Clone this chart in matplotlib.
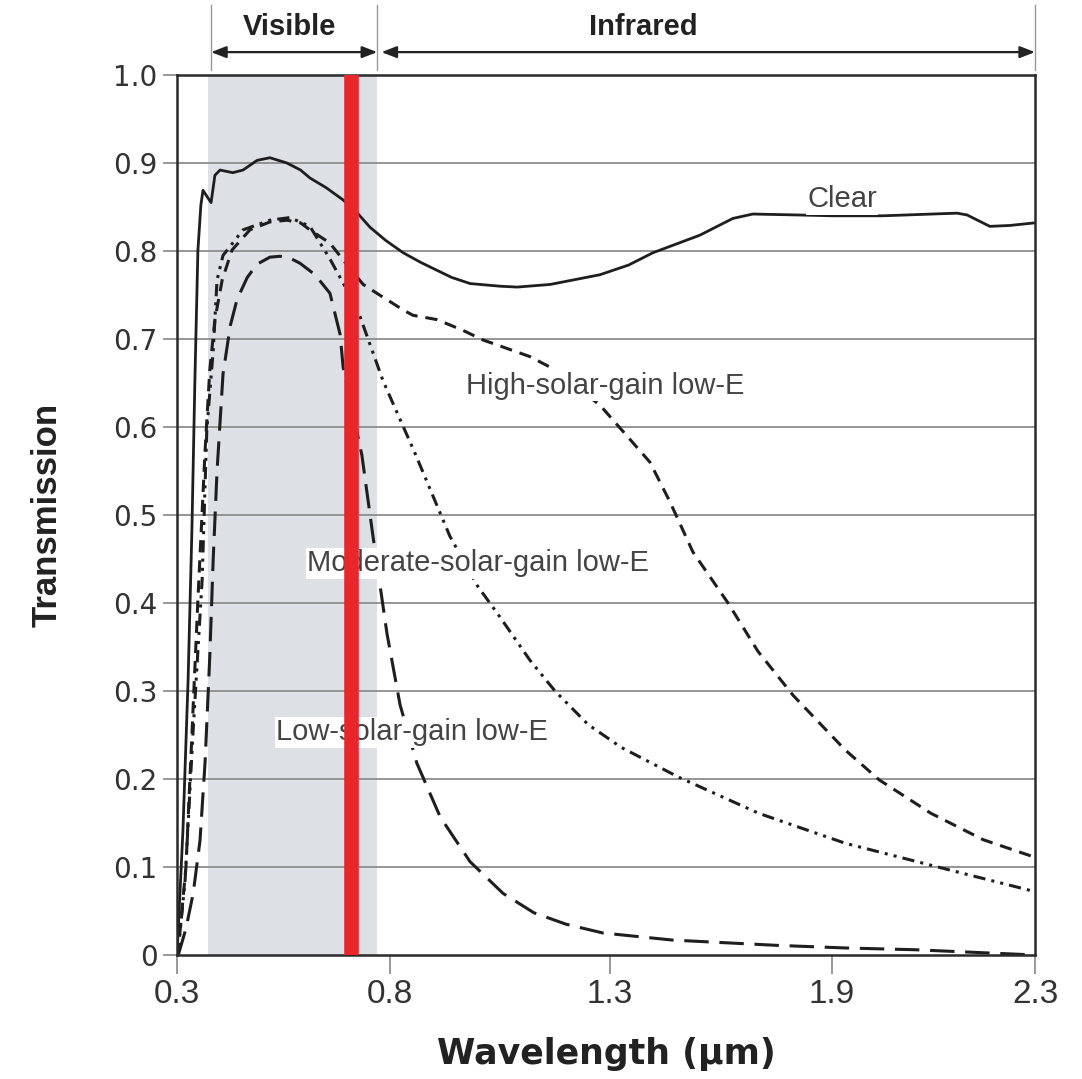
import numpy as np
import matplotlib
matplotlib.use("Agg")
import matplotlib.pyplot as plt
from matplotlib.scale import FuncScale

# wavelength tick labels (the axis is not linear between them)
wl_ticks = [0.3, 0.8, 1.3, 1.9, 2.3]
tick_labels = ["0.3", "0.8", "1.3", "1.9", "2.3"]
y_ticks = [0, 0.1, 0.2, 0.3, 0.4, 0.5, 0.6, 0.7, 0.8, 0.9, 1.0]
y_labels = ["0", "0.1", "0.2", "0.3", "0.4", "0.5", "0.6", "0.7", "0.8", "0.9", "1.0"]

# curves
clear_wl = [0.300, 0.314, 0.326, 0.335, 0.342, 0.349, 0.356, 0.361, 0.373, 0.380, 0.389,
            0.401, 0.431, 0.455, 0.488, 0.518, 0.558, 0.590, 0.612, 0.650, 0.690, 0.720,
            0.753, 0.790, 0.830, 0.870, 0.907, 0.940, 0.982, 1.050, 1.089, 1.164, 1.277,
            1.350, 1.416, 1.543, 1.632, 1.686, 1.800, 1.902, 2.000, 2.146, 2.166, 2.211,
            2.250, 2.300]
clear_t = [0.0, 0.142, 0.312, 0.483, 0.653, 0.800, 0.852, 0.869, 0.860, 0.855, 0.886,
           0.892, 0.889, 0.892, 0.903, 0.906, 0.900, 0.892, 0.883, 0.872, 0.858, 0.845,
           0.827, 0.812, 0.798, 0.787, 0.778, 0.770, 0.763, 0.760, 0.759, 0.762, 0.773,
           0.784, 0.798, 0.818, 0.837, 0.842, 0.841, 0.840, 0.840, 0.843, 0.841, 0.828,
           0.829, 0.832]

high_wl = [0.302, 0.321, 0.335, 0.349, 0.366, 0.377, 0.389, 0.406, 0.429, 0.471, 0.518,
           0.558, 0.590, 0.612, 0.659, 0.706, 0.737, 0.769, 0.830, 0.852, 0.907, 0.965,
           1.011, 1.118, 1.164, 1.277, 1.408, 1.462, 1.524, 1.619, 1.700, 1.795, 1.926,
           1.993, 2.095, 2.198, 2.300]
high_t = [0.0, 0.10, 0.25, 0.403, 0.574, 0.665, 0.722, 0.767, 0.801, 0.824, 0.833,
          0.835, 0.832, 0.824, 0.809, 0.780, 0.762, 0.752, 0.733, 0.727, 0.722, 0.710,
          0.699, 0.680, 0.668, 0.625, 0.560, 0.515, 0.458, 0.400, 0.345, 0.295, 0.233,
          0.199, 0.161, 0.131, 0.111]

mod_wl = [0.302, 0.319, 0.338, 0.359, 0.370, 0.385, 0.394, 0.408, 0.455, 0.518, 0.565,
          0.612, 0.659, 0.694, 0.730, 0.784, 0.857, 0.936, 0.998, 1.050, 1.118, 1.175,
          1.250, 1.330, 1.486, 1.702, 1.926, 2.095, 2.300]
mod_t = [0.0, 0.085, 0.256, 0.426, 0.597, 0.687, 0.767, 0.795, 0.824, 0.835, 0.838,
         0.828, 0.791, 0.760, 0.725, 0.652, 0.570, 0.476, 0.420, 0.384, 0.335, 0.300,
         0.262, 0.236, 0.202, 0.161, 0.127, 0.102, 0.072]

low_wl = [0.303, 0.321, 0.338, 0.354, 0.366, 0.377, 0.385, 0.394, 0.408, 0.425, 0.441,
          0.465, 0.488, 0.518, 0.542, 0.565, 0.589, 0.624, 0.659, 0.683, 0.690, 0.734,
          0.760, 0.793, 0.823, 0.861, 0.914, 0.982, 1.057, 1.127, 1.200, 1.284, 1.468,
          1.749, 1.926, 2.062, 2.300]
low_t = [0.0, 0.03, 0.07, 0.13, 0.22, 0.34, 0.45, 0.55, 0.66, 0.715, 0.745,
         0.770, 0.785, 0.793, 0.794, 0.792, 0.786, 0.773, 0.752, 0.705, 0.668, 0.568,
         0.476, 0.365, 0.284, 0.218, 0.157, 0.106, 0.070, 0.048, 0.035, 0.025, 0.017,
         0.011, 0.008, 0.006, 0.0]

visible_band = (0.373, 0.770)
red_marker = 0.708

# screen position of each wavelength tick (pixels from the left axis edge)
tick_pos = np.array([0, 213, 433, 655, 858], dtype=float)


def fwd(x):
    x = np.asarray(x, dtype=float)
    return np.where(x < wl_ticks[0], (x - wl_ticks[0]) * 426,
                    np.where(x > wl_ticks[-1], tick_pos[-1] + (x - wl_ticks[-1]) * 507,
                             np.interp(x, wl_ticks, tick_pos)))


def inv(p):
    p = np.asarray(p, dtype=float)
    return np.where(p < 0, wl_ticks[0] + p / 426,
                    np.where(p > tick_pos[-1], wl_ticks[-1] + (p - tick_pos[-1]) / 507,
                             np.interp(p, tick_pos, wl_ticks)))


fig = plt.figure(figsize=(10.82, 10.79), dpi=100)
ax = fig.add_axes([177 / 1082, 124 / 1079, 858 / 1082, 880 / 1079])
ax.set_xscale(FuncScale(ax, (fwd, inv)))
ax.set_xlim(0.3, 2.3)
ax.set_ylim(0, 1.0)

ax.axvspan(*visible_band, color="#dde0e4", lw=0, zorder=0.2)
for yv in y_ticks[1:-1]:
    ax.axhline(yv, color="#8c8c8c", lw=1.3, zorder=0.6)

lc = "#1e1e1e"
ax.plot(clear_wl, clear_t, color=lc, lw=2.0, zorder=2)
ax.plot(high_wl, high_t, color=lc, lw=2.2, ls=(0, (4, 2.6)), zorder=2)
ax.plot(mod_wl, mod_t, color=lc, lw=2.2, ls=(0, (4, 2, 1, 2, 1, 2)), zorder=2)
ax.plot(low_wl, low_t, color=lc, lw=2.2, ls=(0, (8, 3.5)), zorder=2)

ax.axvline(red_marker, color="#e8262b", lw=10.5, zorder=5)

lab = dict(fontsize=21, color="#444444", family="Liberation Sans", zorder=3, ha="center",
           va="center", bbox=dict(facecolor="white", edgecolor="none", pad=1))
ax.text(1.92, 0.859, "Clear", **lab)
ax.text(1.29, 0.647, "High-solar-gain low-E", **lab)
ax.text(1.00, 0.445, "Moderate-solar-gain low-E", **lab)
ax.text(0.85, 0.253, "Low-solar-gain low-E", **lab)

ax.set_xticks(wl_ticks)
ax.set_xticklabels(tick_labels, family="Liberation Sans", fontsize=24, color="#333333")
ax.set_yticks(y_ticks)
ax.set_yticklabels(y_labels, family="DejaVu Sans", fontsize=20, color="#333333")
ax.tick_params(axis="x", direction="out", length=14, width=1.2, color="#888888", pad=3)
ax.tick_params(axis="y", direction="out", length=10, width=1.2, color="#888888", pad=4)
ax.minorticks_off()
for s in ax.spines.values():
    s.set_color("#2a2a2a")
    s.set_linewidth(1.8)

ax.set_ylabel("Transmission", family="Liberation Sans", fontweight="bold",
              fontsize=25, labelpad=36, color="#222222")
ax.set_xlabel("Wavelength (\u00b5m)", family="DejaVu Sans", fontweight="bold",
              fontsize=25, labelpad=20, color="#222222")

# Visible / Infrared brackets above the plot
trans = ax.get_xaxis_transform()
for xv in (0.38, 0.77, 2.3):
    ax.plot([xv, xv], [1.006, 1.08], color="#999999", lw=1.0, transform=trans, clip_on=False)
arrow = dict(arrowstyle="<|-|>,head_length=0.9,head_width=0.35", color="#222222", lw=1.6,
             shrinkA=0, shrinkB=0)
ax.annotate("", xy=(0.38, 1.026), xytext=(0.77, 1.026), xycoords=trans, arrowprops=arrow)
ax.annotate("", xy=(0.78, 1.026), xytext=(2.3, 1.026), xycoords=trans, arrowprops=arrow)
hdr = dict(transform=trans, ha="center", va="center", family="Liberation Sans",
           fontweight="bold", fontsize=21, color="#222222")
ax.text(0.565, 1.054, "Visible", **hdr)
ax.text(1.39, 1.054, "Infrared", **hdr)

fig.savefig("out.png", dpi=100)
